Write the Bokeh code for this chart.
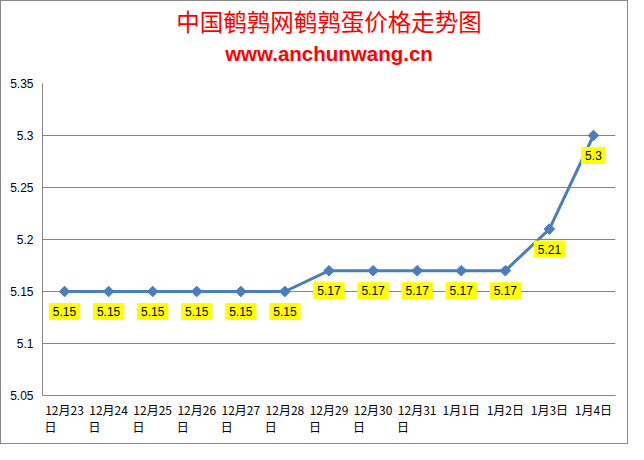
import math
from bokeh.plotting import figure
from bokeh.models import (ColumnDataSource, Label, FixedTicker, Range1d, LinearAxis, Title)
from bokeh.embed import file_html
from bokeh.resources import INLINE

dates = ["12月23日", "12月24日", "12月25日", "12月26日", "12月27日", "12月28日",
         "12月29日", "12月30日", "12月31日", "1月1日", "1月2日", "1月3日", "1月4日"]
prices = [5.15, 5.15, 5.15, 5.15, 5.15, 5.15, 5.17, 5.17, 5.17, 5.17, 5.17, 5.21, 5.3]
price_labels = ["5.15", "5.15", "5.15", "5.15", "5.15", "5.15", "5.17", "5.17", "5.17",
                "5.17", "5.17", "5.21", "5.3"]
y_ticks = [5.05, 5.1, 5.15, 5.2, 5.25, 5.3, 5.35]
y_tick_labels = ["5.05", "5.1", "5.15", "5.2", "5.25", "5.3", "5.35"]
x_line1 = ["12月23", "12月24", "12月25", "12月26", "12月27", "12月28",
           "12月29", "12月30", "12月31", "1月1日", "1月2日", "1月3日", "1月4日"]
x_line2 = ["日", "日", "日", "日", "日", "日", "日", "日", "日", "", "", "", ""]
title_text = "中国鹌鹑网鹌鹑蛋价格走势图"
subtitle_text = "www.anchunwang.cn"

n = len(dates)
centers = [i + 0.5 for i in range(n)]   # category band centres
src = ColumnDataSource(dict(x=centers, y=prices, t=price_labels, d=dates))

p = figure(width=628, height=444, output_backend="svg", toolbar_location=None,
           x_range=Range1d(0, n), y_range=Range1d(5.05, 5.35),
           min_border_left=41, min_border_right=14, min_border_bottom=50, min_border_top=8)
p.styles = {"border": "1px solid #888888", "box-sizing": "border-box"}

# titles (first added sits closest to the frame); a blank title gives the gap above the frame
p.add_layout(Title(text=" ", text_font_size="10px", standoff=0), "above")
p.add_layout(Title(text=subtitle_text, align="center", vertical_align="top",
                   text_color="#FF0000", text_font="Liberation Sans",
                   text_font_size="20.5px", text_font_style="bold", standoff=8), "above")
p.add_layout(Title(text=title_text, align="center", text_color="#FF0000",
                   text_font="Noto Sans CJK SC", text_font_size="23.5px",
                   text_font_style="normal", standoff=0), "above")

# shifted range for the wrapped second line of category labels
shift = 0.32
p.extra_x_ranges["wrap"] = Range1d(shift, n + shift)

p.outline_line_color = None
p.xgrid.grid_line_color = None
p.ygrid.grid_line_color = "#868686"
p.ygrid.grid_line_width = 1

p.yaxis.ticker = FixedTicker(ticks=y_ticks)
p.yaxis.major_label_overrides = {t: l for t, l in zip(y_ticks, y_tick_labels)}
p.xaxis.ticker = FixedTicker(ticks=centers)
p.xaxis.major_label_overrides = {c: l for c, l in zip(centers, x_line1)}
for ax in (p.xaxis, p.yaxis):
    ax.axis_line_color = "#868686"
    ax.major_tick_line_color = None
    ax.minor_tick_line_color = None
    ax.major_label_text_font = "Noto Sans CJK SC"
    ax.major_label_text_font_size = "12px"
    ax.major_label_text_color = "#000000"
p.yaxis.major_label_text_font = "Liberation Sans"
p.yaxis.major_label_standoff = 3
p.xaxis.major_label_standoff = -1

ax2 = LinearAxis(x_range_name="wrap", ticker=FixedTicker(ticks=centers),
                 major_label_overrides={c: l for c, l in zip(centers, x_line2)})
ax2.axis_line_color = None
ax2.major_tick_line_color = None
ax2.minor_tick_line_color = None
ax2.major_label_text_font = "Noto Sans CJK SC"
ax2.major_label_text_font_size = "12px"
ax2.major_label_text_color = "#000000"
ax2.major_label_standoff = -9
p.add_layout(ax2, "below")

p.line("x", "y", source=src, line_color="#4A7EBB", line_width=3)
p.scatter("x", "y", source=src, marker="square", angle=math.pi / 4, size=7.5,
          fill_color="#4A7EBB", line_color="#4A7EBB")

for xc, yv, tv in zip(centers, prices, price_labels):
    p.add_layout(Label(x=xc, y=yv, text=tv, y_offset=-20,
                       text_align="center", text_baseline="middle",
                       text_font="Liberation Sans", text_font_size="12px",
                       text_color="#000000", background_fill_color="#FFFF00", padding=4))

open("out.html", "w").write(file_html(p, INLINE))
